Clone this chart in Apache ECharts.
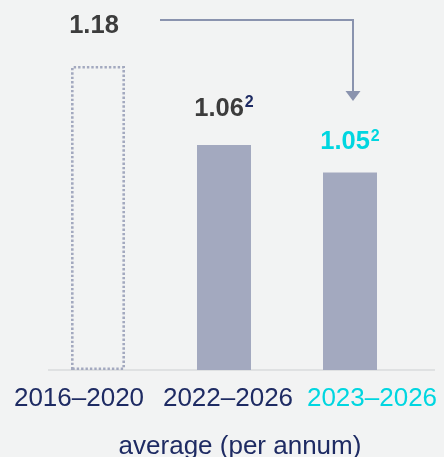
<!DOCTYPE html>
<html>
<head>
<meta charset="utf-8">
<script src="https://cdn.jsdelivr.net/npm/echarts@6/dist/echarts.min.js"></script>
<style>
  html, body { margin: 0; padding: 0; background: #f2f3f3; }
  #chart { width: 444px; height: 457px; }
</style>
</head>
<body>
<div id="chart"></div>
<script>
// ---- data ----
var categories = ['2016–2020', '2022–2026', '2023–2026'];
var values = [1.18, 1.06, 1.05];           // displayed values
var footnotes = ['', '2', '2'];            // superscript footnote markers
var barHeights = [100, 74, 65];            // drawn bar heights (index, bar 1 = 100)
var axisTitle = 'average (per annum)';

var NAVY = '#1e2b63', CYAN = '#00d6e0', BAR = '#a3a9bf', ARROW = '#8a93ae', TXT = '#3c3c3c';
var FONT = 'Liberation Sans, Arial, sans-serif';

var chart = echarts.init(document.getElementById('chart'));

var labelDistances = [26, 22, 16];
var labelOffsets = [[-4, 0], [0, 0], [0, 0]];
var valueColors = [TXT, TXT, CYAN];
var supColors = [NAVY, NAVY, CYAN];

var seriesData = barHeights.map(function (h, i) {
  var item = {
    value: h,
    label: {
      distance: labelDistances[i],
      offset: labelOffsets[i],
      formatter: '{v|' + values[i].toFixed(2) + '}' + (footnotes[i] ? '{s' + i + '|' + footnotes[i] + '}' : ''),
      rich: {
        v: { fontSize: 25.5, fontWeight: 'bold', color: valueColors[i], fontFamily: FONT, lineHeight: 28 }
      }
    }
  };
  item.label.rich['s' + i] = { fontSize: 16, fontWeight: 'bold', color: supColors[i], fontFamily: FONT, verticalAlign: 'top', lineHeight: 28, padding: [0, 0, 10, 1] };
  if (i === 0) {
    item.itemStyle = { color: 'rgba(0,0,0,0)', borderColor: BAR, borderWidth: 2.6, borderType: [2.4, 2] };
  }
  return item;
});

var catRich = {
  a: { fontSize: 26, color: NAVY, fontFamily: FONT, padding: [0, 38, 0, 0] },
  b: { fontSize: 26, color: NAVY, fontFamily: FONT, padding: [0, 0, 0, 8] },
  c: { fontSize: 26, color: CYAN, fontFamily: FONT, padding: [0, 0, 0, 44] }
};
var catKeys = ['a', 'b', 'c'];

chart.setOption({
  backgroundColor: '#f2f3f3',
  animation: false,
  grid: { left: 35, right: 31, top: 66, bottom: 87, outerBoundsMode: 'none', containLabel: false },
  xAxis: {
    type: 'category',
    data: categories,
    axisLine: { show: false },
    axisTick: { show: false },
    axisLabel: {
      interval: 0,
      margin: 16,
      formatter: function (v, idx) { return '{' + catKeys[idx] + '|' + v + '}'; },
      rich: catRich
    },
    name: axisTitle,
    nameLocation: 'middle',
    nameGap: 64,
    nameTextStyle: { fontSize: 26, color: NAVY, fontFamily: FONT, padding: [0, 0, 0, 32] }
  },
  yAxis: { type: 'value', min: 0, max: 100, show: false },
  series: [{
    type: 'bar',
    data: seriesData,
    barWidth: 54,
    itemStyle: { color: BAR },
    label: { show: true, position: 'top' }
  }]
});

// annotations: baseline and arrow to 3rd bar
var p3 = chart.convertToPixel({ seriesIndex: 0 }, [2, barHeights[2]]);
var ax = p3[0] + 3;
chart.setOption({
  graphic: [
    { type: 'line', shape: { x1: 48, y1: 370, x2: 435, y2: 370 }, style: { stroke: '#d9dbdc', lineWidth: 1.5 }, z: 1 },
    { type: 'polyline', shape: { points: [[160, 20], [ax, 20], [ax, 92]] }, style: { stroke: ARROW, lineWidth: 2, fill: null } },
    { type: 'polygon', shape: { points: [[ax - 7.5, 91], [ax + 7.5, 91], [ax, 101]] }, style: { fill: ARROW } }
  ]
});
</script>
</body>
</html>
